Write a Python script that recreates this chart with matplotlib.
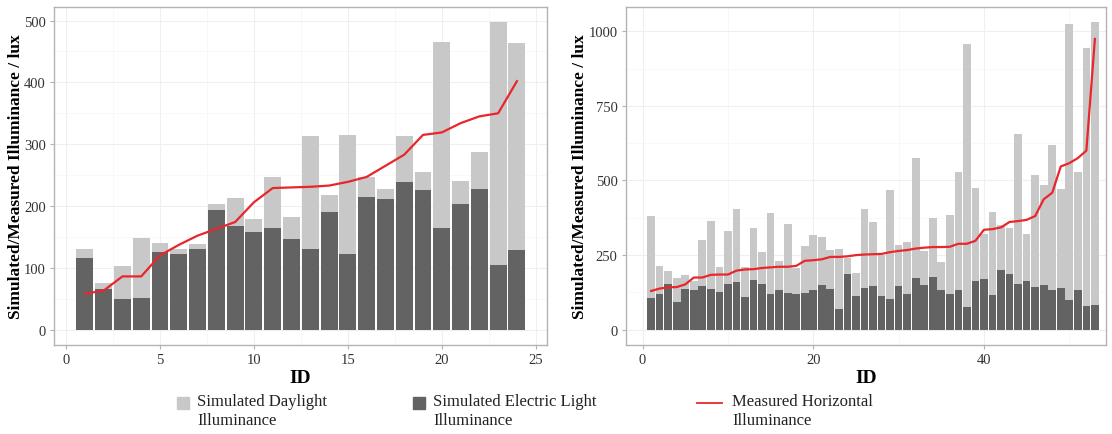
import numpy as np
import matplotlib.pyplot as plt
from matplotlib.patches import Rectangle
from matplotlib.lines import Line2D
from matplotlib.ticker import MultipleLocator

plt.rcParams['font.family'] = ['Liberation Serif', 'DejaVu Serif']

# left panel data (ID 1..24)
ids_a = np.arange(1, 25)
total_a = [130, 76, 103, 148, 140, 131, 139, 203, 213, 179, 247, 182,
           314, 218, 315, 247, 227, 313, 255, 466, 240, 287, 498, 463]
electric_a = [115, 66, 49, 51, 125, 122, 131, 194, 167, 158, 165, 147,
              131, 190, 123, 214, 211, 239, 226, 164, 203, 227, 105, 129]
measured_a = [58, 63, 86, 86, 120, 137, 152, 163, 174, 206, 229, 230,
              231, 233, 239, 247, 265, 283, 315, 319, 334, 345, 350, 402]

# right panel data (ID 1..53)
ids_b = np.arange(1, 54)
total_b = [380, 214, 196, 173, 183, 165, 300, 364, 209, 331, 406, 209, 342, 261,
           391, 230, 355, 207, 279, 317, 311, 267, 270, 241, 191, 404, 361, 251,
           468, 285, 295, 576, 263, 373, 227, 384, 529, 957, 474, 320, 394, 350,
           342, 655, 320, 518, 484, 619, 471, 1023, 529, 944, 1032]
electric_b = [106, 120, 154, 94, 136, 133, 145, 136, 125, 154, 160, 109, 167, 154,
              120, 132, 124, 120, 124, 133, 150, 138, 69, 186, 113, 141, 146, 112,
              102, 146, 120, 173, 150, 178, 132, 119, 133, 76, 165, 171, 115, 199,
              186, 153, 164, 143, 151, 133, 140, 100, 133, 78, 84]
measured_b = [130, 138, 142, 143, 152, 175, 175, 184, 185, 185, 198, 202, 203, 207,
              209, 211, 211, 214, 231, 233, 236, 244, 244, 246, 250, 252, 253, 254,
              260, 264, 267, 272, 275, 277, 277, 278, 288, 288, 298, 335, 337, 343,
              361, 364, 368, 381, 437, 459, 547, 558, 575, 600, 974]

light = '#c8c8c8'
dark = '#636363'
red = '#e8262b'

fig = plt.figure(figsize=(11.12, 4.35), dpi=100)
ax1 = fig.add_axes([0.0486, 0.2046, 0.4433, 0.777])
ax2 = fig.add_axes([0.5629, 0.2046, 0.4317, 0.777])


def panel(ax, ids, total, electric, measured, xlim, ylim, xstep, ystep):
    ax.bar(ids, total, 0.9, color=light, zorder=2)
    ax.bar(ids, electric, 0.9, color=dark, zorder=3)
    ax.plot(ids, measured, color=red, lw=1.6, zorder=4)
    ax.set_xlim(*xlim)
    ax.set_ylim(*ylim)
    ax.xaxis.set_major_locator(MultipleLocator(xstep))
    ax.xaxis.set_minor_locator(MultipleLocator(xstep / 2))
    ax.yaxis.set_major_locator(MultipleLocator(ystep))
    ax.yaxis.set_minor_locator(MultipleLocator(ystep / 2))
    ax.grid(which='major', color='#efefef', lw=0.8, zorder=0)
    ax.grid(which='minor', color='#f7f7f7', lw=0.6, zorder=0)
    ax.set_axisbelow(True)
    for s in ax.spines.values():
        s.set_color('#b3b3b3')
        s.set_linewidth(1.0)
    ax.tick_params(which='major', length=3, color='#b3b3b3', labelsize=10.5,
                   labelcolor='#333333', pad=3)
    ax.tick_params(which='minor', length=0)
    ax.set_xlabel('ID', fontsize=14, fontweight='bold', labelpad=2)
    ax.set_ylabel('Simulated/Measured Illuminance / lux', fontsize=12.5,
                  fontweight='bold', labelpad=0)


panel(ax1, ids_a, total_a, electric_a, measured_a, (-0.64, 25.6), (-25, 522), 5, 100)
panel(ax2, ids_b, total_b, electric_b, measured_b, (-1.95, 54.3), (-51, 1081), 20, 250)

# legend drawn in figure coordinates
W, H = 1112, 435
items = [
    ('patch', light, 'Simulated Daylight\nIlluminance', 177, 197),
    ('patch', dark, 'Simulated Electric Light\nIlluminance', 413, 433),
    ('line', red, 'Measured Horizontal\nIlluminance', 697, 732),
]
for kind, col, txt, kx, tx in items:
    if kind == 'patch':
        fig.patches.append(Rectangle((kx / W, 1 - 410 / H), 12 / W, 12 / H,
                                     transform=fig.transFigure, color=col))
    else:
        fig.lines.append(Line2D([kx / W, (kx + 25) / W], [1 - 404 / H] * 2,
                                transform=fig.transFigure, color=col, lw=1.3))
    fig.text(tx / W, 1 - 394 / H, txt, fontsize=12, va='top', ha='left',
             linespacing=1.25, color='#222222')

fig.savefig('out.png', dpi=100)
